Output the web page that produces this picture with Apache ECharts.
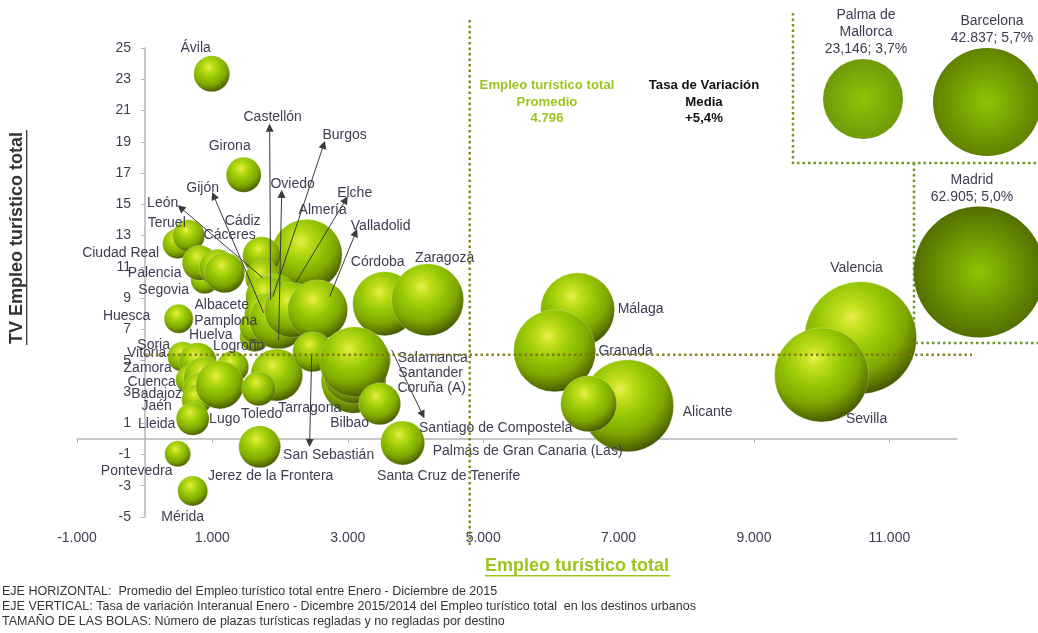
<!DOCTYPE html>
<html lang="es">
<head>
<meta charset="utf-8">
<title>Empleo turístico total en destinos urbanos</title>
<script src="https://cdn.jsdelivr.net/npm/echarts@6/dist/echarts.min.js"></script>
<style>
  html, body { margin: 0; padding: 0; background: #fff; }
  #chart { width: 1038px; height: 633px; }
</style>
</head>
<body>
<div id="chart"></div>
<script>
// Destinos urbanos, de atrás hacia delante en el orden de dibujo
const destinos = ['Ávila','Girona','Ciudad Real','Teruel','Segovia','Palencia','Cáceres','Albacete','Almería','Cádiz','León','Burgos','Castellón','Huelva','Pamplona','Gijón','Oviedo','Elche','Valladolid','Córdoba','Zaragoza','Huesca','Soria','Vitoria','Logroño','Cuenca','Zamora','Badajoz','Jaén','Lleida','Lugo','Tarragona','Toledo','San Sebastián','Santiago de Compostela','Coruña (A)','Santander','Salamanca','Bilbao','Santa Cruz de Tenerife','Jerez de la Frontera','Pontevedra','Mérida','Málaga','Granada','Alicante','Palmas de Gran Canaria (Las)','Valencia','Sevilla'];
const empleo = [990,1462,487,650,886,812,1078,1182,2393,1728,1743,1920,1802,1625,1654,1758,1979,2171,2555,3545,4180,502,561,783,1300,665,886,812,768,709,1108,1950,1684,2481,3353,3087,3102,3102,3471,3811,1699,487,709,6395,6056,7134,6558,10575,9999];
const variacion = [23.35,16.89,12.48,12.99,10.17,11.26,10.94,10.62,11.77,11.71,10.30,9.09,9.09,6.53,7.17,8.06,7.61,8.25,8.25,8.64,8.89,7.68,5.25,4.93,4.61,3.77,3.90,3.13,2.50,1.28,3.45,4.09,3.20,5.57,5.05,3.71,4.29,4.93,2.24,-0.26,-0.51,-0.96,-3.33,8.25,5.63,2.11,2.24,6.46,4.09];
const plazas = [6480,6125,4500,5120,3920,6125,6845,8000,25205,7220,6125,10580,8820,4500,5780,7220,16820,15125,18000,20480,25920,4205,4500,7220,5120,3920,8820,5780,4500,5445,11520,13520,5780,8000,7220,21125,20480,24500,8820,9680,8820,3380,4500,27380,33620,42320,15680,62720,44180];

// Grandes destinos, fuera de la escala principal
const grandesNombres = ['Palma de\nMallorca','Barcelona','Madrid'];
const grandesEmpleoTexto = ['23,146','42.837','62.905'];
const grandesEmpleo = [23146,42837,62905];
const grandesVariacion = [3.7,5.7,5.0];
const grandesPlazas = [32000,58320,85805];

const promedioEmpleo = 4796;
const mediaVariacion = 5.4;

const xTicks = [-1000,1000,3000,5000,7000,9000,11000];
const yTicks = [-5,-3,-1,1,3,5,7,9,11,13,15,17,19,21,23,25];

// Flechas desde la bola hasta el rótulo: [empleo, variación] de origen y de punta
const flechas = [
  [[1861,8.89],[1846,19.90]],
  [[1891,9.09],[2644,18.81]],
  [[1979,6.33],[2023,15.67]],
  [[2230,9.98],[2969,15.29]],
  [[2732,9.09],[3116,13.18]],
  [[1743,10.30],[532,14.78]],
  [[1758,8.06],[1019,15.55]],
  [[2467,5.37],[2437,-0.26]],
  [[3648,5.69],[4106,1.54]]
];

// Desplazamiento del rótulo respecto al centro de su bola
const desplazamientos = {
  'Ávila':[-16,-26],'Girona':[-14,-29],'Ciudad Real':[-57,9],'Teruel':[-22,-13],'Segovia':[-41,10],
  'Palencia':[-45,10],'Cáceres':[12,-33],'Albacete':[-3,32],'Almería':[16,-45],'Cádiz':[-19,-35],
  'León':[-100,-75],'Burgos':[70,-162],'Castellón':[6,-180],'Huelva':[-44,-2],'Pamplona':[-31,-6],
  'Gijón':[-61,-125],'Oviedo':[14,-136],'Elche':[63,-117],'Valladolid':[63,-84],'Córdoba':[-7,-42],
  'Zaragoza':[17,-42],'Huesca':[-52,-3],'Soria':[-29,-12],'Vitoria':[-51,-9],'Logroño':[6,-21],
  'Cuenca':[-38,2],'Zamora':[-57,-10],'Badajoz':[-43,4],'Jaén':[-40,6],'Lleida':[-36,5],'Lugo':[5,34],
  'Tarragona':[33,33],'Toledo':[3,25],'San Sebastián':[16,103],'Santiago de Compostela':[124,68],
  'Coruña (A)':[78,7],'Santander':[76,1],'Salamanca':[78,-4],'Bilbao':[-30,19],
  'Santa Cruz de Tenerife':[46,33],'Jerez de la Frontera':[11,29],'Pontevedra':[-41,17],'Mérida':[-10,26],
  'Málaga':[63,-1],'Granada':[71,0],'Alicante':[80,6],'Palmas de Gran Canaria (Las)':[-61,47],
  'Valencia':[-4,-70],'Sevilla':[45,44]
};

const FONT = '"Liberation Sans", Arial, sans-serif';
const TEXTO = '#3d3d52';
const VERDE_TITULO = '#9cc41e';
const diametro = p => Math.sqrt(p / 5);

const esfera = {
  type: 'radial', x: 0.42, y: 0.32, r: 0.74,
  colorStops: [
    { offset: 0, color: '#eaee50' },
    { offset: 0.15, color: '#c4e01c' },
    { offset: 0.4, color: '#96c805' },
    { offset: 0.65, color: '#7fa800' },
    { offset: 0.85, color: '#567000' },
    { offset: 1, color: '#2f3c00' }
  ]
};
const plana = [
  ['#8fc404', '#6f9a0a'],
  ['#8fc404', '#5f8200'],
  ['#8fc404', '#527000']
].map(([centro, borde]) => ({
  type: 'radial', x: 0.5, y: 0.5, r: 0.5,
  colorStops: [{ offset: 0, color: centro }, { offset: 1, color: borde }]
}));

// Rejilla principal y rejilla de las líneas de referencia, a la misma escala
const grids = [
  { left: 77, top: 48, width: 880, height: 469 },
  { left: 145, top: 18, width: 827, height: 527 }
];
const xAxes = [
  {
    type: 'value', gridIndex: 0, min: -1000, max: 12000, splitLine: { show: false },
    axisLine: { onZero: true, lineStyle: { color: '#b5b5b5', width: 1.5 } },
    axisTick: { customValues: xTicks, length: 4, lineStyle: { color: '#b5b5b5' } },
    axisLabel: {
      customValues: xTicks, margin: 14, color: TEXTO, fontFamily: FONT, fontSize: 14,
      formatter: v => String(v).replace(/(\d)(\d{3})$/, '$1.$2')
    }
  },
  { type: 'value', gridIndex: 1, min: 0, max: 12215, show: false }
];
const yAxes = [
  {
    type: 'value', gridIndex: 0, min: -5, max: 25, splitLine: { show: false },
    axisLine: { onZero: true, lineStyle: { color: '#b5b5b5', width: 1.5 } },
    axisTick: { customValues: yTicks, length: 4, lineStyle: { color: '#b5b5b5' } },
    axisLabel: { customValues: yTicks, margin: -54, color: TEXTO, fontFamily: FONT, fontSize: 14 }
  },
  { type: 'value', gridIndex: 1, min: -6.78, max: 26.94, show: false }
];

// Una rejilla oculta para cada gran destino, centrada en su propio valor
const cajas = [
  { left: 843, top: 79 },
  { left: 967, top: 82 },
  { left: 959, top: 252 }
];
const etiquetasGrandes = [
  { offset: [3, 1] },
  { offset: [5, 1] },
  { offset: [-7, 1] }
];
const seriesGrandes = grandesNombres.map((nombre, i) => {
  const gi = i + 2;
  grids.push({ left: cajas[i].left, top: cajas[i].top, width: 40, height: 40 });
  xAxes.push({ type: 'value', gridIndex: gi, min: grandesEmpleo[i] - 1, max: grandesEmpleo[i] + 1, show: false });
  yAxes.push({ type: 'value', gridIndex: gi, min: grandesVariacion[i] - 1, max: grandesVariacion[i] + 1, show: false });
  return {
    type: 'scatter', xAxisIndex: gi, yAxisIndex: gi, clip: false, silent: true,
    data: [{ name: nombre, value: [grandesEmpleo[i], grandesVariacion[i], grandesPlazas[i]] }],
    symbolSize: d => diametro(d[2]),
    itemStyle: { color: plana[i], opacity: 1 },
    label: {
      show: true, position: 'top', distance: 2, offset: etiquetasGrandes[i].offset,
      align: 'center', lineHeight: 17, color: TEXTO, fontFamily: FONT, fontSize: 14,
      formatter: () => nombre + '\n' + grandesEmpleoTexto[i] + '; ' + grandesVariacion[i].toFixed(1).replace('.', ',') + '%'
    }
  };
});

const lineaPunteada = { color: 'rgba(128,118,20,0.9)', width: 2.5, type: [2.5, 3] };

const option = {
  animation: false,
  backgroundColor: '#fff',
  grid: grids,
  xAxis: xAxes,
  yAxis: yAxes,
  series: [
    {
      type: 'scatter', xAxisIndex: 0, yAxisIndex: 0, clip: false, silent: true, z: 3,
      data: destinos.map((nombre, i) => ({
        name: nombre,
        value: [empleo[i], variacion[i], plazas[i]],
        label: { offset: desplazamientos[nombre] }
      })),
      symbolSize: d => diametro(d[2]),
      itemStyle: { color: esfera, opacity: 1, borderColor: 'rgba(255,255,255,0.28)', borderWidth: 0.8 },
      label: {
        show: true, position: 'inside', align: 'center', verticalAlign: 'middle',
        color: TEXTO, fontFamily: FONT, fontSize: 14, formatter: '{b}'
      }
    },
    {
      type: 'lines', coordinateSystem: 'cartesian2d', xAxisIndex: 0, yAxisIndex: 0, silent: true, z: 4,
      polyline: false,
      symbol: ['none', 'triangle'], symbolSize: 8,
      lineStyle: { color: '#3a3a3a', width: 1, opacity: 1, curveness: 0 },
      data: flechas.map(coords => ({ coords }))
    },
    {
      type: 'line', xAxisIndex: 1, yAxisIndex: 1, silent: true, showSymbol: false, z: 5,
      lineStyle: lineaPunteada,
      data: [[promedioEmpleo, -6.78], [promedioEmpleo, 26.94]]
    },
    {
      type: 'line', xAxisIndex: 1, yAxisIndex: 1, silent: true, showSymbol: false, z: 5,
      lineStyle: lineaPunteada,
      data: [[0, mediaVariacion], [12215, mediaVariacion]]
    },
    ...seriesGrandes
  ],
  graphic: [
    // Títulos de los ejes con su subrayado
    { type: 'text', x: 17, y: 238, rotation: Math.PI / 2, style: { text: 'TV Empleo turístico total', font: 'bold 18px ' + FONT, fill: '#333', textAlign: 'center', textVerticalAlign: 'middle' } },
    { type: 'rect', shape: { x: 26, y: 130, width: 1.4, height: 215 }, style: { fill: '#444' } },
    { type: 'text', x: 577, y: 566, style: { text: 'Empleo turístico total', font: 'bold 18px ' + FONT, fill: VERDE_TITULO, textAlign: 'center', textVerticalAlign: 'middle' } },
    { type: 'rect', shape: { x: 485, y: 575, width: 185, height: 1.4 }, style: { fill: VERDE_TITULO } },

    // Promedio y media de referencia
    { type: 'text', x: 547, y: 102, style: { text: 'Empleo turístico total\nPromedio\n' + promedioEmpleo.toLocaleString('de-DE'), font: 'bold 13.2px ' + FONT, fill: VERDE_TITULO, textAlign: 'center', textVerticalAlign: 'middle', lineHeight: 16.5 } },
    { type: 'text', x: 704, y: 102, style: { text: 'Tasa de Variación\nMedia\n+' + mediaVariacion.toFixed(1).replace('.', ',') + '%', font: 'bold 13.2px ' + FONT, fill: '#111', textAlign: 'center', textVerticalAlign: 'middle', lineHeight: 16.5 } },

    // Recuadros punteados de los grandes destinos
    { type: 'polyline', shape: { points: [[793, 13], [793, 163], [1038, 163]] }, style: { stroke: '#6f9a2a', lineWidth: 2.5, lineDash: [2.5, 3], fill: null } },
    { type: 'polyline', shape: { points: [[914, 163], [914, 343], [1038, 343]] }, style: { stroke: '#6f9a2a', lineWidth: 2.5, lineDash: [2.5, 3], fill: null } },

    // Notas al pie
    { type: 'text', x: 2, y: 592, style: { text: 'EJE HORIZONTAL:  Promedio del Empleo turístico total entre Enero - Diciembre de 2015', font: '12.5px ' + FONT, fill: '#333', textVerticalAlign: 'middle' } },
    { type: 'text', x: 2, y: 607, style: { text: 'EJE VERTICAL: Tasa de variación Interanual Enero - Dicembre 2015/2014 del Empleo turístico total  en los destinos urbanos', font: '12.5px ' + FONT, fill: '#333', textVerticalAlign: 'middle' } },
    { type: 'text', x: 2, y: 622, style: { text: 'TAMAÑO DE LAS BOLAS: Número de plazas turísticas regladas y no regladas por destino', font: '12.5px ' + FONT, fill: '#333', textVerticalAlign: 'middle' } }
  ]
};

echarts.init(document.getElementById('chart'), null, { renderer: 'canvas' }).setOption(option);
</script>
</body>
</html>
